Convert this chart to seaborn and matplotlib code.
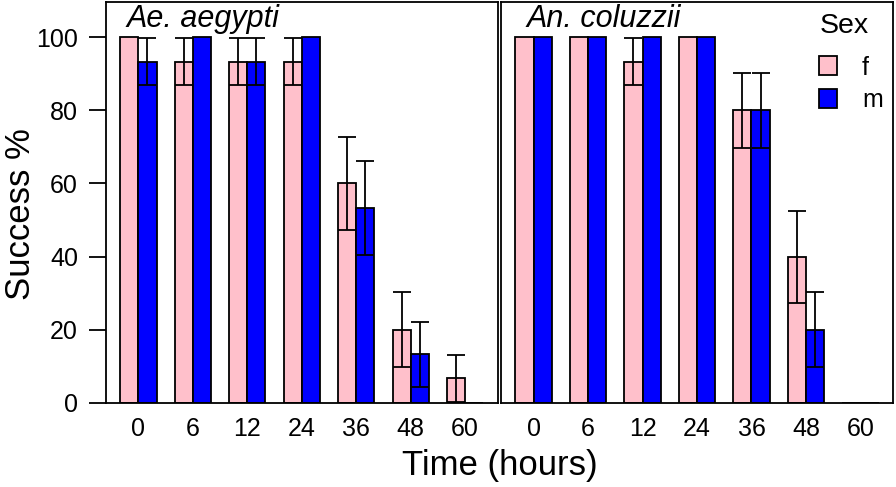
""" Bar chart of success % by time and sex for two mosquito species """

import pandas as pd
import seaborn as sns
import matplotlib.pyplot as plt
from matplotlib.patches import Patch

# Data
times = ["0", "6", "12", "24", "36", "48", "60"]
species = ["Ae. aegypti", "An. coluzzii"]
aeg_f = [100, 93.3, 93.3, 93.3, 60.0, 20.0, 6.7]
aeg_m = [93.3, 100, 93.3, 100, 53.3, 13.3, 0]
aeg_f_se = [0, 6.4, 6.4, 6.4, 12.6, 10.3, 6.4]
aeg_m_se = [6.4, 0, 6.4, 0, 12.9, 8.8, 0]
col_f = [100, 100, 93.3, 100, 80.0, 40.0, 0]
col_m = [100, 100, 100, 100, 80.0, 20.0, 0]
col_f_se = [0, 0, 6.4, 0, 10.3, 12.6, 0]
col_m_se = [0, 0, 0, 0, 10.3, 10.3, 0]
palette = {"f": "pink", "m": "blue"}


def build_frame():
    """ Long table from the lists above """
    rows = []
    series = {
        ("Ae. aegypti", "f"): (aeg_f, aeg_f_se),
        ("Ae. aegypti", "m"): (aeg_m, aeg_m_se),
        ("An. coluzzii", "f"): (col_f, col_f_se),
        ("An. coluzzii", "m"): (col_m, col_m_se),
    }
    for (sp, sex), (vals, ses) in series.items():
        for t, v, s in zip(times, vals, ses):
            rows.append([sp, t, sex, v, s])
    return pd.DataFrame(rows, columns=["Species", "Time", "Sex", "Success", "SE"])


def plot(df):
    """ Two panels side by side """
    fig, axes = plt.subplots(1, 2, figsize=(8.96, 4.87), dpi=100, sharey=True)
    fig.subplots_adjust(left=0.118, right=0.9967, top=0.996, bottom=0.1725, wspace=0.008)
    for ax, sp in zip(axes, species):
        sub = df[df["Species"] == sp]
        sns.barplot(data=sub, x="Time", y="Success", hue="Sex", order=times,
                    hue_order=["f", "m"], palette=palette, width=2 / 3,
                    saturation=1, edgecolor="black", linewidth=1.3, errorbar=None,
                    legend=False, ax=ax)
        # error bars at bar centres
        for cont, sex in zip(ax.containers, ["f", "m"]):
            part = sub[sub["Sex"] == sex].set_index("Time").loc[times]
            for bar, (_, r) in zip(cont, part.iterrows()):
                if r["SE"] > 0:
                    ax.errorbar(bar.get_x() + bar.get_width() / 2, r["Success"],
                                yerr=r["SE"], fmt="none", ecolor="black",
                                elinewidth=1.3, capsize=6.3, capthick=1.3)
        ax.set_xlim(-0.6, 6.6)
        ax.set_ylim(0, 109.6)
        ax.set_xlabel("")
        ax.set_ylabel("")
        ax.tick_params(axis="x", length=0, labelsize=18, pad=10, labelcolor="black")
        ax.tick_params(axis="y", left=True, length=12, width=1.3, color="black",
                       labelsize=18, pad=8, labelcolor="black")
        for s in ax.spines.values():
            s.set_linewidth(1.3)
            s.set_color("black")
        ax.text(0.054 if sp.startswith("Ae") else 0.066, 0.995, sp, transform=ax.transAxes,
                fontsize=22, style="italic", va="top", ha="left", color="black")
    axes[0].set_yticks([0, 20, 40, 60, 80, 100])
    axes[0].set_ylabel("Success %", fontsize=25, color="black")
    axes[0].yaxis.set_label_coords(-0.176, 0.47)
    axes[1].tick_params(axis="y", left=False, labelleft=False)
    handles = [Patch(facecolor=palette[k], edgecolor="black", linewidth=1.3, label=k)
               for k in ["f", "m"]]
    leg = axes[1].legend(handles=handles, title="Sex", loc="upper right",
                         bbox_to_anchor=(1.012, 1.01), frameon=False,
                         fontsize=18, title_fontsize=20.5, handlelength=0.7, handleheight=0.8,
                         handletextpad=1.0, labelspacing=0.35, borderaxespad=0.2,
                         labelcolor="black")
    leg.get_title().set_color("black")
    leg._legend_box.align = "left"
    leg._legend_box.sep = 12
    fig.text(0.558, 0.045, "Time (hours)", fontsize=25, ha="center", va="center",
             color="black")
    plt.savefig("out.png", dpi=100)


if __name__ == "__main__":
    sns.set_style("white")
    plt.rcParams["font.family"] = ["Liberation Sans", "DejaVu Sans"]
    plot(build_frame())
